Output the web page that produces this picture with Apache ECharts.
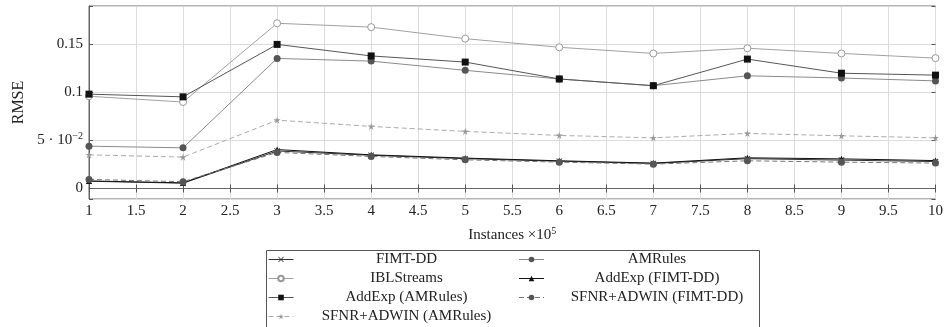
<!DOCTYPE html>
<html>
<head>
<meta charset="utf-8">
<script src="https://cdn.jsdelivr.net/npm/echarts@6/dist/echarts.min.js"></script>
<style>
  html, body { margin: 0; padding: 0; background: #fff; }
  #chart { width: 946px; height: 327px; }
</style>
</head>
<body>
<div id="chart"></div>
<script>
// instances (x 10^5)
const instances = [1, 2, 3, 4, 5, 6, 7, 8, 9, 10];

// RMSE per method
const fimtDD = [0.0075, 0.0055, 0.039, 0.0345, 0.031, 0.0283, 0.026, 0.031, 0.0295, 0.028];
const amRules = [0.044, 0.0423, 0.1354, 0.1326, 0.123, 0.114, 0.107, 0.1173, 0.115, 0.112];
const iblStreams = [0.096, 0.090, 0.172, 0.168, 0.156, 0.147, 0.1406, 0.146, 0.1406, 0.1357];
const addExpFimt = [0.0078, 0.0058, 0.0405, 0.035, 0.0316, 0.0288, 0.0264, 0.0319, 0.0308, 0.029];
const addExpAmr = [0.0982, 0.0954, 0.150, 0.138, 0.1316, 0.114, 0.107, 0.1347, 0.120, 0.118];
const sfnrFimt = [0.0094, 0.007, 0.0375, 0.0333, 0.0298, 0.0274, 0.0253, 0.0288, 0.0274, 0.0264];
const sfnrAmr = [0.035, 0.0326, 0.0711, 0.0646, 0.0594, 0.0552, 0.0527, 0.0573, 0.0548, 0.0527];

const FONT = '"Liberation Serif", "DejaVu Serif", serif';
const X_MARK = 'path://M0,1 L1,0 L5,4 L9,0 L10,1 L6,5 L10,9 L9,10 L5,6 L1,10 L0,9 L4,5 Z';
const STAR = 'path://M5,0 L6.2,3.8 L10,3.8 L6.9,6.1 L8.1,10 L5,7.6 L1.9,10 L3.1,6.1 L0,3.8 L3.8,3.8 Z';

const pairs = (vals) => instances.map((x, i) => [x, vals[i]]);

function makeSeries(name, vals, opts) {
  return {
    name,
    type: 'line',
    data: pairs(vals),
    symbol: opts.symbol,
    symbolSize: opts.size || 7,
    lineStyle: { width: 1, color: opts.line, type: opts.dashed ? [5, 3] : 'solid' },
    itemStyle: {
      color: opts.fill,
      borderColor: opts.border || opts.fill,
      borderWidth: opts.borderWidth || 0,
    },
    emphasis: { disabled: true },
  };
}

const chart = echarts.init(document.getElementById('chart'));

const tickAxis = {
  axisLine: { show: false },
  axisTick: { show: true, inside: true, length: 4, lineStyle: { color: '#555' } },
  axisLabel: { show: false },
  splitLine: { show: false },
};

chart.setOption({
  animation: false,
  textStyle: { fontFamily: FONT },
  grid: {
    left: 89, right: 9, top: 6, bottom: 128,
    show: true, borderColor: '#666', borderWidth: 1,
  },
  xAxis: [
    {
      type: 'value',
      min: 1,
      max: 10,
      interval: 0.5,
      name: 'Instances ×10{sup|5}',
      nameLocation: 'middle',
      nameGap: 27,
      nameTextStyle: {
        fontFamily: FONT, fontSize: 15, color: '#222',
        rich: { sup: { fontSize: 10, verticalAlign: 'top', padding: [0, 0, 8, 0], fontFamily: FONT, color: '#222' } },
      },
      axisLine: { show: true, lineStyle: { color: '#666' } },
      axisTick: { inside: true, length: 4, lineStyle: { color: '#555' } },
      axisLabel: { fontFamily: FONT, fontSize: 15, color: '#222', margin: 5 },
      splitLine: { show: true, lineStyle: { color: '#dcdcdc' } },
    },
    Object.assign({ type: 'value', position: 'top', min: 1, max: 10, interval: 0.5 }, tickAxis),
  ],
  yAxis: [
    {
      type: 'value',
      min: -0.011,
      max: 0.19,
      splitNumber: 5,
      name: 'RMSE',
      nameLocation: 'middle',
      nameGap: 62,
      nameTextStyle: { fontFamily: FONT, fontSize: 16, color: '#222' },
      axisLine: { show: true, lineStyle: { color: '#666' } },
      axisTick: { inside: true, length: 4, lineStyle: { color: '#555' } },
      axisLabel: {
        fontFamily: FONT, fontSize: 15, color: '#222', margin: 6,
        formatter: (v) => {
          const r = Math.round(v * 1000) / 1000;
          if (r === 0) return '0';
          if (r === 0.05) return '5 · 10{sup|−2}';
          if (r === 0.1) return '0.1';
          if (r === 0.15) return '0.15';
          return '';
        },
        rich: { sup: { fontSize: 10, verticalAlign: 'top', padding: [0, 0, 8, 0], fontFamily: FONT, color: '#222' } },
      },
      splitLine: { show: true, lineStyle: { color: '#dcdcdc' } },
    },
    Object.assign({ type: 'value', position: 'right', min: -0.011, max: 0.19, splitNumber: 5 }, tickAxis),
  ],
  legend: {
    left: 268,
    top: 252,
    width: 500,
    padding: 0,
    itemGap: 4,
    itemWidth: 25,
    itemHeight: 7,
    lineStyle: { width: 1 },
    formatter: (name) => '{c|' + name + '}',
    textStyle: {
      fontFamily: FONT, fontSize: 15, color: '#222',
      rich: { c: { width: 216, align: 'center', lineHeight: 15, fontSize: 15, fontFamily: FONT, color: '#222' } },
    },
    data: ['FIMT-DD', 'AMRules', 'IBLStreams', 'AddExp (FIMT-DD)', 'AddExp (AMRules)',
           'SFNR+ADWIN (FIMT-DD)', 'SFNR+ADWIN (AMRules)'],
  },
  graphic: [{
    type: 'rect',
    left: 264,
    top: 248,
    shape: { width: 493, height: 100 },
    style: { fill: 'none', stroke: '#555', lineWidth: 1 },
    silent: true,
  }],
  series: [
    makeSeries('FIMT-DD', fimtDD, { symbol: X_MARK, size: 6, line: '#333', fill: '#333' }),
    makeSeries('AMRules', amRules, { symbol: 'circle', line: '#8a8a8a', fill: '#555' }),
    makeSeries('IBLStreams', iblStreams, { symbol: 'circle', line: '#a0a0a0', fill: '#fff', border: '#999', borderWidth: 1 }),
    makeSeries('AddExp (FIMT-DD)', addExpFimt, { symbol: 'triangle', size: 6, line: '#111', fill: '#111' }),
    makeSeries('AddExp (AMRules)', addExpAmr, { symbol: 'rect', line: '#555', fill: '#111' }),
    makeSeries('SFNR+ADWIN (FIMT-DD)', sfnrFimt, { symbol: 'circle', line: '#777', fill: '#555', dashed: true }),
    makeSeries('SFNR+ADWIN (AMRules)', sfnrAmr, { symbol: STAR, size: 7, line: '#aaa', fill: '#999', dashed: true }),
  ],
});
</script>
</body>
</html>
